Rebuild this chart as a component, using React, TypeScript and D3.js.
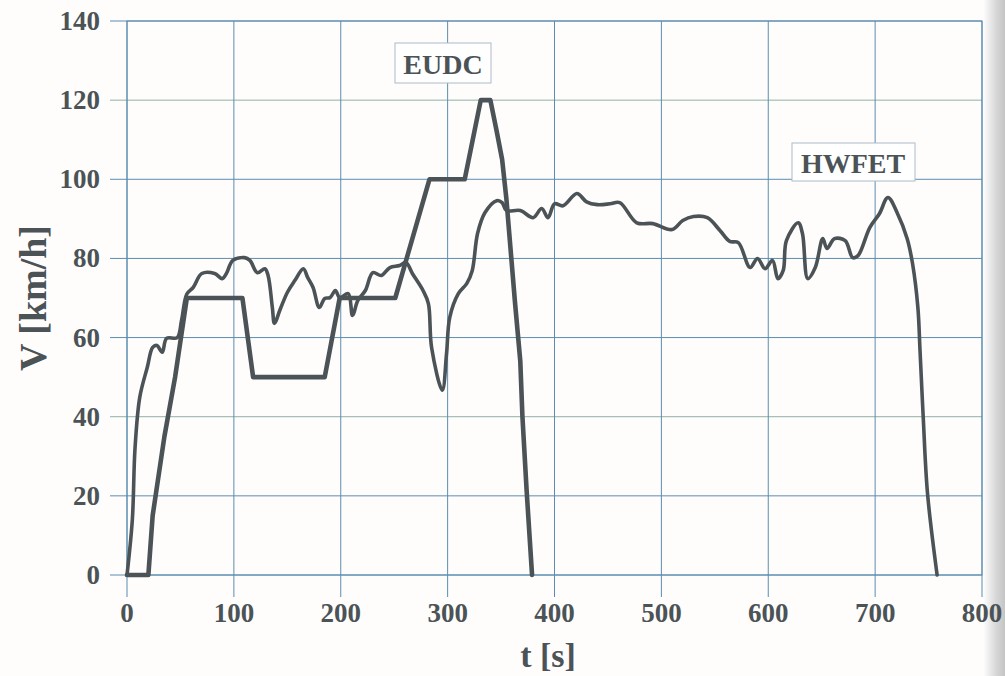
import React, { useMemo } from "react";
import * as d3 from "d3";

// EUDC cycle
const eudcT = [0, 20, 24, 35, 45, 56, 108, 118, 185, 199, 251, 283, 316, 331, 340, 346, 351, 355, 363, 368, 370, 374, 379];
const eudcV = [0, 0, 15, 35, 50, 70, 70, 50, 50, 70, 70, 100, 100, 120, 120, 112, 105, 95, 69, 54, 40, 21, 0];

// HWFET cycle
const hwfetT = [
  0, 5, 7.5, 12, 19, 24, 28, 33, 37, 47, 51, 56, 62, 70, 82, 89, 93, 99, 110, 115, 122, 129, 132, 136,
  138, 143, 150, 157, 165, 169, 174, 180, 185, 190, 195, 199, 207, 211, 216, 223, 230, 238, 246, 255,
  261, 267, 277, 282, 285, 295, 299, 302, 310, 318, 323, 328, 335, 346, 351, 355, 368, 380, 388, 394,
  400, 408, 421, 430, 440, 452, 461, 477, 492, 510, 520, 530, 543, 555, 564, 572, 583, 590, 597, 604,
  609, 614, 617, 628, 632, 637, 644, 651, 655, 662, 672, 679, 684, 695, 704, 712, 721, 730, 735, 740,
  742, 745, 749, 758
];
const hwfetV = [
  0, 14, 32, 45, 52.5, 57.5, 58, 56.3, 59.8, 60, 64.3, 71, 72.7, 76.2, 76.2, 74.9, 76.2, 79.5, 80.2, 79.5,
  76.4, 77.4, 75.7, 67.6, 63.6, 66.9, 71.4, 74.4, 77.4, 75.2, 72.7, 67.6, 69.9, 70.1, 71.9, 70.1, 71.1,
  65.6, 69.4, 71.9, 76.4, 75.7, 77.7, 78.2, 79, 76.2, 71.9, 68.6, 57.5, 46.7, 56, 65.1, 71.1, 73.7, 76.9,
  86.3, 91.6, 94.6, 94.1, 92.1, 92.1, 90.3, 92.6, 90.3, 93.8, 93.3, 96.4, 94.3, 93.6, 93.8, 94.1, 89,
  88.8, 87.3, 89.6, 90.6, 90.3, 87, 84.3, 84, 77.7, 80, 77.4, 79.5, 74.9, 77, 84.5, 89, 86.3, 74.9, 77.7,
  85, 82.5, 85, 84.5, 80.2, 80.7, 87.8, 91.3, 95.4, 91.3, 85, 78.7, 67.6, 56.8, 39.9, 20.7, 0
];

const xTicks = [0, 100, 200, 300, 400, 500, 600, 700, 800];
const yTicks = [0, 20, 40, 60, 80, 100, 120, 140];

const W = 1005;
const H = 676;
const left = 127;
const right = 982;
const top = 21;
const bottom = 575;

const ink = "#4b5356";
const grid = "#5b8db0";
const serif = "'Liberation Serif', 'DejaVu Serif', serif";

export default function App() {
  const x = useMemo(() => d3.scaleLinear().domain([0, 800]).range([left, right]), []);
  const y = useMemo(() => d3.scaleLinear().domain([0, 140]).range([bottom, top]), []);

  const line = d3
    .line<[number, number]>()
    .x((d) => x(d[0]))
    .y((d) => y(d[1]));

  const eudcPath = line(eudcT.map((t, i) => [t, eudcV[i]]));
  // the scanned trace is a bit rounder than the cycle definition
  const hwfetPath = line.curve(d3.curveCatmullRom.alpha(0.5))(hwfetT.map((t, i) => [t, hwfetV[i]]));

  return (
    <div style={{ position: "absolute", left: 0, top: 0 }}>
      <svg width={W} height={H} style={{ display: "block" }}>
        <defs>
          <linearGradient id="edge" x1="0" x2="1" y1="0" y2="0">
            <stop offset="0" stopColor="#fbfbfb" />
            <stop offset="0.6" stopColor="#d6d6d6" />
            <stop offset="1" stopColor="#c4c4c4" />
          </linearGradient>
        </defs>
        <rect width={W} height={H} fill="#fefdfc" />
        <rect x={984} y={0} width={21} height={H} fill="url(#edge)" />

        {/* grid */}
        {yTicks.map((t) => (
          <line key={"gy" + t} x1={left - 17} x2={right} y1={y(t)} y2={y(t)} stroke={t === 120 || t === 40 ? "#8fb0a8" : grid} strokeWidth={1} />
        ))}
        {xTicks.map((t) => (
          <line key={"gx" + t} x1={x(t)} x2={x(t)} y1={top} y2={bottom + 22} stroke={grid} strokeWidth={1} />
        ))}
        <rect x={left} y={top} width={right - left} height={bottom - top} fill="none" stroke={grid} strokeWidth={1} />

        {/* tick labels */}
        {yTicks.map((t) => (
          <text key={"ly" + t} x={100} y={y(t) + 9} textAnchor="end" fontFamily={serif} fontWeight="bold" fontSize={27} fill={ink}>
            {t}
          </text>
        ))}
        {xTicks.map((t) => (
          <text key={"lx" + t} x={x(t)} y={622} textAnchor="middle" fontFamily={serif} fontWeight="bold" fontSize={27} fill={ink}>
            {t}
          </text>
        ))}

        <text x={548} y={667} textAnchor="middle" fontFamily={serif} fontWeight="bold" fontSize={34} fill={ink}>
          t [s]
        </text>
        <text
          transform="translate(46,298) rotate(-90)"
          textAnchor="middle"
          fontFamily={serif}
          fontWeight="bold"
          fontSize={38}
          fill={ink}
        >
          V [km/h]
        </text>

        {/* curves */}
        <path d={hwfetPath ?? ""} fill="none" stroke={ink} strokeWidth={3.6} strokeLinejoin="round" strokeLinecap="round" />
        <path d={eudcPath ?? ""} fill="none" stroke={ink} strokeWidth={4.6} strokeLinejoin="round" strokeLinecap="round" />

        {/* labels */}
        <rect x={395} y={43} width={96} height={40} fill="#fff" stroke="#a9bcc8" strokeWidth={1} />
        <text x={443} y={74} textAnchor="middle" fontFamily={serif} fontWeight="bold" fontSize={28} fill={ink}>
          EUDC
        </text>
        <rect x={792} y={143} width={123} height={38} fill="#fff" stroke="#a9bcc8" strokeWidth={1} />
        <text x={853} y={173} textAnchor="middle" fontFamily={serif} fontWeight="bold" fontSize={28} fill={ink}>
          HWFET
        </text>
      </svg>
    </div>
  );
}
